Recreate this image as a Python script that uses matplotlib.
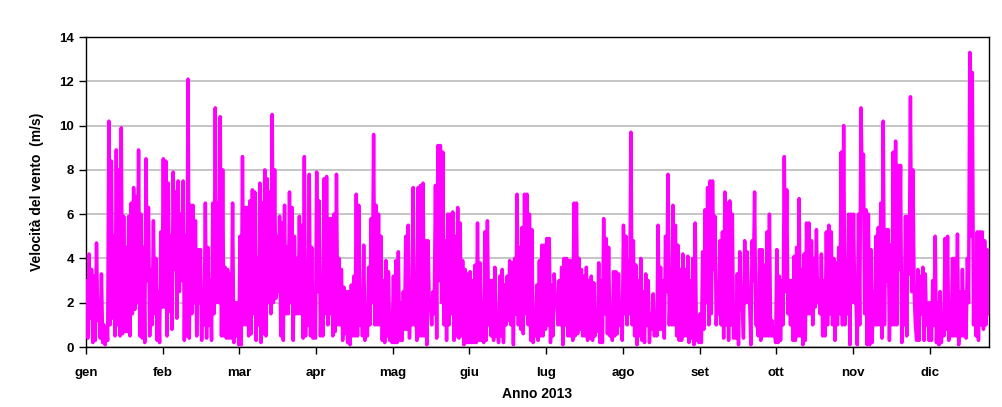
import numpy as np
import matplotlib
matplotlib.use('Agg')
import matplotlib.pyplot as plt

plt.rcParams['font.family'] = ['Liberation Sans', 'DejaVu Sans']

months = ['gen', 'feb', 'mar', 'apr', 'mag', 'giu', 'lug', 'ago', 'set', 'ott', 'nov', 'dic']

# wind speed (m/s), two readings per day (daily high, daily low), per 31-day block
gen = [3.0, 0.4, 4.2, 1.3, 3.5, 0.2, 3.2, 0.3, 4.7, 1.2, 2.0, 0.4, 3.3, 0.2, 1.0, 0.1,
       0.9, 0.3, 10.2, 1.0, 8.4, 1.3, 5.0, 0.5, 8.9, 1.0, 8.0, 0.5, 9.9, 0.6, 5.9, 0.7,
       4.5, 0.7, 5.9, 0.5, 6.5, 1.5, 7.2, 1.7, 6.8, 2.0, 8.9, 0.5, 6.0, 0.4, 4.5, 0.2,
       8.5, 3.0, 6.3, 0.5, 3.5, 1.0, 5.7, 1.5, 4.0, 0.3, 2.5, 0.2, 5.2, 1.8]
feb = [8.5, 1.8, 8.4, 0.5, 7.4, 1.6, 5.0, 0.8, 7.9, 3.5, 7.0, 1.3, 7.5, 2.5, 6.0, 3.0,
       7.5, 0.3, 5.0, 0.5, 12.1, 0.4, 6.4, 1.5, 6.4, 2.0, 5.7, 0.5, 4.4, 2.0, 4.4, 0.3,
       2.5, 1.0, 6.5, 0.4, 4.5, 1.0, 3.0, 0.3, 6.5, 1.5, 10.8, 2.0, 6.5, 2.0, 10.4, 0.5,
       8.0, 0.5, 3.6, 0.4, 3.5, 0.4, 3.3, 0.4, 6.5, 0.2, 2.0, 0.5, 2.0, 0.1]
mar = [5.0, 0.1, 8.6, 1.0, 6.3, 1.0, 6.3, 0.5, 6.6, 0.6, 7.1, 1.5, 7.0, 0.3, 4.0, 1.0,
       7.4, 0.2, 6.5, 0.6, 8.0, 0.5, 7.6, 2.0, 7.0, 1.5, 10.5, 2.0, 8.0, 2.2, 5.0, 2.5,
       5.9, 0.5, 5.6, 0.3, 6.4, 1.5, 4.5, 1.5, 7.0, 2.0, 6.3, 0.3, 5.0, 1.5, 4.0, 1.5,
       5.9, 1.5, 5.5, 0.4, 8.6, 0.5, 3.0, 1.0, 7.8, 0.5, 4.5, 0.4, 1.0, 0.4]
apr = [7.9, 2.5, 6.6, 0.5, 3.0, 0.5, 7.6, 1.5, 7.7, 1.0, 5.8, 1.5, 5.8, 0.5, 6.0, 0.7,
       7.8, 1.0, 4.0, 1.0, 3.5, 0.3, 2.7, 0.6, 2.5, 0.2, 2.5, 0.1, 2.8, 0.5, 3.2, 0.5,
       6.9, 0.5, 6.4, 1.0, 2.0, 0.5, 4.6, 0.3, 1.5, 0.5, 3.6, 1.0, 5.8, 2.0, 9.6, 1.0,
       6.4, 1.0, 6.0, 1.0, 5.0, 0.3, 3.0, 0.2, 3.9, 0.5, 3.4, 0.3, 1.5, 0.2]
mag = [3.2, 0.2, 3.9, 0.2, 4.3, 0.3, 2.0, 0.3, 2.5, 0.8, 5.0, 0.8, 5.5, 0.4, 2.5, 1.0,
       7.2, 1.0, 2.0, 0.3, 7.2, 0.5, 7.3, 0.5, 7.4, 0.5, 4.8, 0.1, 4.8, 2.0, 1.8, 1.0,
       2.5, 1.5, 7.3, 0.4, 9.1, 3.0, 9.1, 2.0, 8.8, 1.0, 4.8, 0.3, 6.0, 1.0, 6.0, 1.5,
       6.1, 0.3, 5.0, 0.5, 6.3, 0.4, 5.6, 0.5, 3.9, 0.1, 3.5, 0.2, 3.3, 0.2]
giu = [3.4, 0.2, 3.0, 0.2, 3.7, 0.2, 5.6, 0.3, 3.8, 0.3, 2.0, 0.2, 5.2, 0.3, 5.7, 1.0,
       3.0, 0.5, 3.0, 0.3, 3.6, 0.5, 1.5, 0.2, 3.2, 0.5, 3.5, 0.2, 2.8, 1.0, 3.2, 1.2,
       3.9, 1.0, 3.8, 0.1, 4.0, 1.5, 6.9, 1.0, 4.5, 0.8, 5.4, 0.6, 6.9, 1.5, 6.9, 1.0,
       6.0, 0.3, 5.3, 0.2, 1.0, 0.5, 2.8, 0.3, 3.9, 0.5, 4.6, 0.5, 4.6, 0.8]
lug = [4.9, 1.0, 4.9, 0.2, 2.8, 0.5, 3.3, 2.2, 2.2, 1.0, 3.0, 1.0, 3.6, 0.1, 4.0, 1.0,
       4.0, 0.5, 3.9, 0.5, 3.9, 0.3, 6.5, 0.5, 6.5, 0.6, 4.0, 0.8, 3.5, 0.5, 3.2, 0.5,
       3.6, 0.3, 3.0, 0.4, 3.2, 0.3, 2.9, 0.5, 1.5, 0.7, 3.8, 0.2, 3.0, 0.2, 5.8, 1.5,
       4.9, 0.6, 4.5, 0.5, 1.5, 0.3, 3.4, 0.5, 3.4, 0.6, 3.3, 1.0, 1.5, 0.3]
ago = [5.5, 1.5, 5.0, 1.0, 3.9, 1.5, 9.7, 1.0, 4.8, 0.5, 3.7, 0.1, 3.0, 0.5, 4.0, 0.3,
       2.5, 0.2, 3.3, 1.0, 3.0, 0.2, 1.5, 0.8, 2.4, 0.5, 1.5, 0.5, 5.5, 0.8, 3.6, 0.8,
       3.0, 0.4, 5.0, 2.5, 7.8, 1.0, 3.0, 1.0, 6.4, 1.0, 5.5, 0.5, 4.6, 0.3, 3.5, 0.3,
       4.2, 0.5, 3.5, 0.5, 4.1, 0.2, 3.0, 0.4, 4.0, 0.1, 5.6, 0.3, 1.0, 0.2]
set_ = [1.5, 0.2, 4.3, 0.8, 6.2, 2.0, 7.2, 1.0, 7.5, 1.5, 7.5, 3.5, 5.9, 1.0, 2.5, 1.5,
        4.8, 1.0, 5.2, 0.4, 7.0, 1.0, 6.5, 0.3, 6.6, 1.0, 6.0, 0.4, 0.8, 0.4, 3.3, 0.1,
        4.3, 2.0, 2.0, 0.4, 4.8, 2.0, 4.3, 2.0, 2.0, 0.1, 4.8, 3.0, 7.0, 1.0, 1.0, 0.5,
        4.4, 0.3, 4.4, 0.5, 3.7, 0.5, 5.2, 0.5, 6.0, 0.5, 1.2, 0.5, 0.8, 0.2]
ott = [4.4, 0.2, 3.2, 0.3, 3.0, 1.0, 8.6, 2.5, 7.1, 1.5, 3.0, 1.0, 3.0, 0.3, 4.1, 0.3,
       4.5, 0.5, 6.7, 0.5, 3.5, 0.1, 4.2, 0.3, 5.6, 1.5, 5.6, 1.5, 4.8, 1.0, 4.0, 1.8,
       5.3, 2.0, 3.0, 1.5, 4.2, 0.5, 3.0, 0.5, 5.2, 1.0, 5.5, 1.5, 5.2, 1.0, 4.0, 0.3,
       3.8, 1.0, 4.5, 1.5, 8.8, 1.0, 10.0, 1.0, 3.9, 1.5, 6.0, 0.1, 6.0, 2.0]
nov = [6.0, 2.0, 2.0, 0.1, 6.0, 1.0, 10.8, 7.5, 8.7, 1.5, 6.2, 0.1, 6.0, 0.1, 4.4, 0.2,
       2.5, 1.0, 5.0, 1.0, 5.4, 1.0, 6.5, 0.4, 10.2, 1.0, 5.3, 3.0, 5.3, 0.3, 4.6, 1.0,
       8.8, 1.0, 9.3, 1.0, 8.2, 3.5, 8.2, 0.2, 2.5, 1.0, 5.9, 0.5, 5.9, 3.3, 11.3, 2.5,
       8.0, 2.5, 1.0, 0.3, 3.5, 0.3, 3.2, 1.5, 3.6, 0.3, 3.3, 1.0, 2.0, 0.3]
dic = [2.0, 0.3, 3.0, 1.0, 5.0, 0.2, 2.0, 0.1, 2.5, 0.2, 1.5, 0.5, 4.9, 0.8, 5.0, 0.3,
       2.0, 0.5, 4.0, 0.5, 4.0, 0.5, 5.1, 0.1, 2.5, 0.5, 3.5, 0.5, 2.5, 0.4, 4.0, 2.0,
       13.3, 5.0, 12.4, 1.0, 3.5, 0.5, 5.2, 0.3, 5.2, 1.0, 5.2, 0.8, 4.8, 1.0, 4.4, 1.5]

series = gen + feb + mar + apr + mag + giu + lug + ago + set_ + ott + nov + dic
values = np.array(series)
days = np.arange(len(values)) * 0.5 + 0.25

fig = plt.figure(figsize=(10.03, 4.07), dpi=100)
ax = fig.add_axes([86 / 1003, 1 - 347 / 407, (989 - 86) / 1003, (347 - 37) / 407])

ax.plot(days, values, color='#FF00FF', lw=2.5, zorder=3)

ax.set_xlim(0, 365)
ax.set_ylim(0, 14)
ax.set_yticks(np.arange(0, 15, 2))
ax.set_xticks(np.arange(12) * 31)
ax.set_xticklabels(months)
ax.yaxis.grid(True, color='#C0C0C0', lw=1.3)
ax.set_axisbelow(True)

for s in ax.spines.values():
    s.set_color('black')
    s.set_linewidth(1.0)

ax.tick_params(axis='both', direction='out', length=5, width=1, labelsize=9.5, colors='black')
ax.tick_params(axis='x', pad=9.5)
for lab in ax.get_xticklabels() + ax.get_yticklabels():
    lab.set_fontweight('bold')

ax.set_ylabel('Velocità del vento  (m/s)', fontsize=10, fontweight='bold', labelpad=11)
ax.set_xlabel('Anno 2013', fontsize=10, fontweight='bold', labelpad=6)

fig.savefig('out.png', dpi=100)
